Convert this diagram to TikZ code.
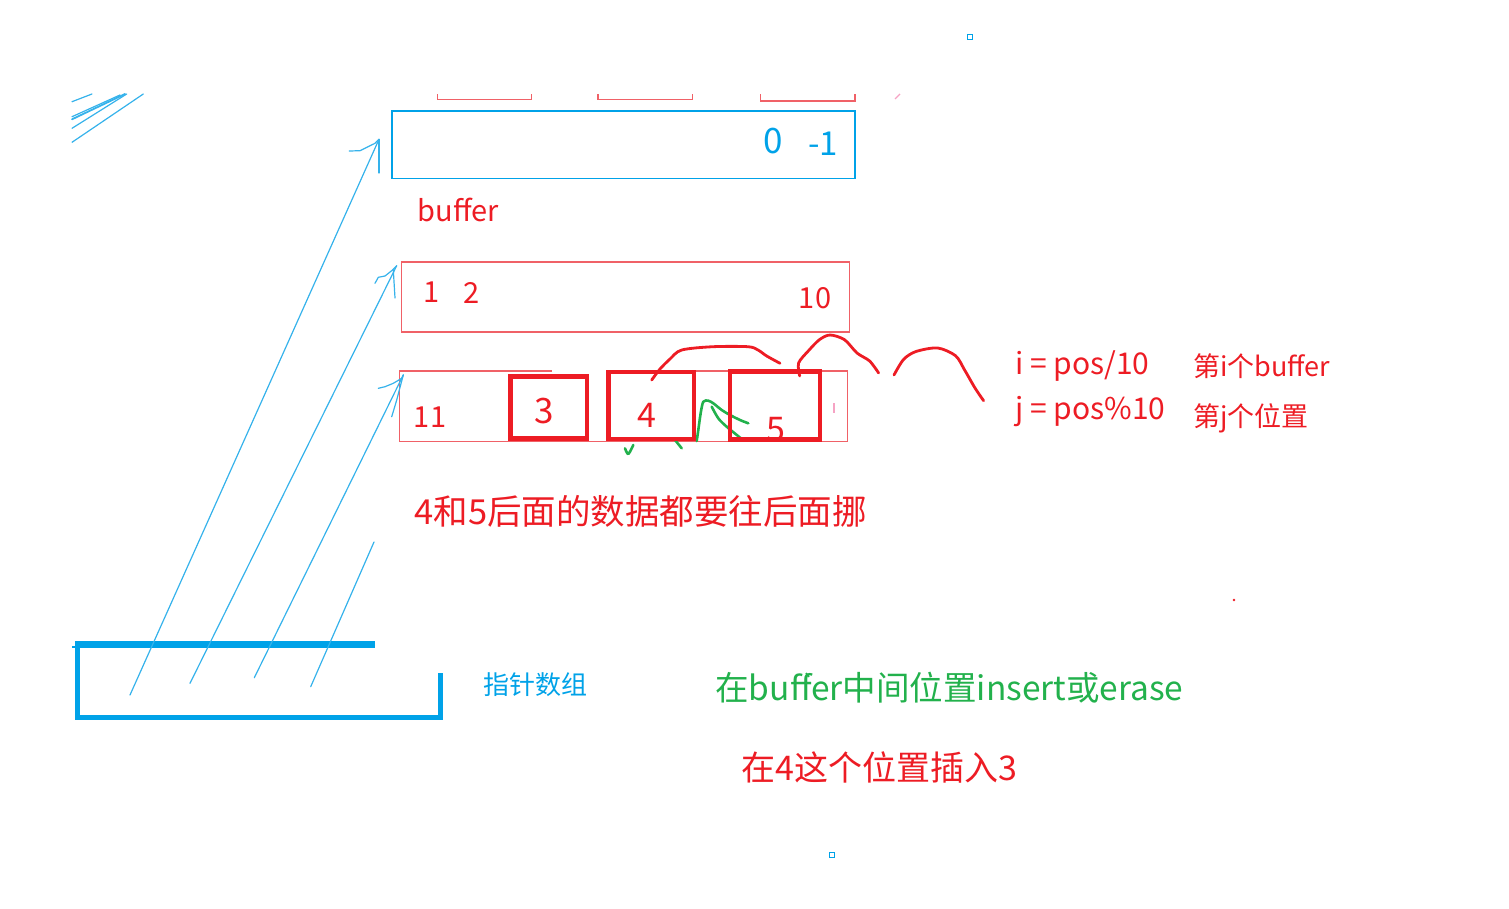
\documentclass[tikz,border=0pt]{standalone}
\usepackage{fontspec}
\newfontfamily\cjk{Noto Sans CJK SC}
\usepackage{xcolor}
\definecolor{penred}{HTML}{ED1C24}
\definecolor{thinred}{HTML}{F06167}
\definecolor{penblue}{HTML}{00A2E8}
\definecolor{thinblue}{HTML}{35B2EB}
\definecolor{pengreen}{HTML}{22B14C}
\definecolor{penpink}{HTML}{F6A3C4}

\begin{document}
\begin{tikzpicture}[
  x=1pt, y=-1pt,
  % Node Styles
  bufbox/.style={rectangle, draw=#1, line width=1.4pt, inner sep=0pt},
  markbox/.style={rectangle, draw=penred, line width=4.6pt, inner sep=0pt},
  pentext/.style={font=\cjk\fontsize{#1}{#1}\selectfont, inner sep=0pt},
  % Line Styles
  pointer/.style={thinblue, line width=1.2pt, line cap=round, line join=round},
  redscribble/.style={penred, line width=2.8pt, line cap=round, line join=round},
  greenscribble/.style={pengreen, line width=2.6pt, line cap=round, line join=round},
  thinedge/.style={thinred, line width=1.4pt}
]
\useasboundingbox (0,0) rectangle (1509,908);

% stray dots
\draw[penblue, line width=1.6pt] (967.5,34.5) rectangle (972.5,39.5);
\draw[penblue, line width=1.6pt] (829.5,852.5) rectangle (834.5,857.5);
\fill[penred] (1234,600) circle (1.3);
\draw[penpink, line width=1.2pt] (895,99) -- (900,94);

% hatching, top left
\draw[pointer] (72,101.7) -- (92,94);
\draw[pointer, line width=1.8pt] (72,119.3) -- (125,94);
\draw[pointer] (72,116.7) -- (120,95);
\draw[pointer] (72,128.3) -- (126.7,94);
\draw[pointer] (72,142.3) -- (143.3,94);

% cut-off boxes above
\draw[thinedge] (437.6,94) -- (437.6,99.5) -- (531.7,99.5) -- (531.7,94);
\draw[thinedge] (598,94) -- (598,99.5) -- (692.7,99.5) -- (692.7,94);
\draw[thinedge] (760.7,94) -- (760.7,101) -- (855,101) -- (855,94);

% buffers
\node[bufbox=penblue, minimum width=463pt, minimum height=67.5pt] (buf0) at (623.5,144.8) {};
\node[pentext=35, text=penblue] (zero) at (773.5,141) {0};
\node[pentext=33, text=penblue] (minusone) at (823,144) {-1};
\node[pentext=29, text=penred] (buflabel) at (458.5,210) {buffer};

\node[bufbox=thinred, minimum width=448pt, minimum height=70pt] (buf1) at (625.5,297) {};
\node[pentext=29, text=penred] (one) at (432,292) {1};
\node[pentext=29, text=penred] (two) at (472,293) {2};
\node[pentext=29, text=penred] (ten) at (815,298) {10};

\draw[thinedge] (552,371) -- (399.3,371) -- (399.3,441.6) -- (847.3,441.6) -- (847.3,371) -- (607,371);
\node[pentext=29, text=penred] (eleven) at (430,417) {11};
\node[pentext=35, text=penred] (three) at (544.3,410.7) {3};
\node[pentext=34, text=penred] (four) at (646.7,415) {4};
\node[pentext=34, text=penred] (five) at (775.7,430) {5};
\draw[penpink, line width=1.4pt] (834,403) -- (834,413);

% green strokes under the boxes
\draw[greenscribble] plot[smooth] coordinates {(696.7,441) (698.3,430) (700.7,413) (703.3,401.7) (708.3,400.7) (713.3,403.3) (721.7,410) (730,415) (740,420) (748.3,423.3)};
\draw[greenscribble] plot[smooth] coordinates {(711.7,406.7) (718.3,418.3) (726.7,426.7) (743,440)};
\draw[greenscribble] plot[smooth] coordinates {(625,448.3) (628.3,454) (633.3,445)};
\draw[greenscribble] (675,440) -- (681.7,448.3);

\node[markbox, minimum width=76.3pt, minimum height=62pt] (slot3) at (548.9,407.7) {};
\node[markbox, minimum width=85.3pt, minimum height=67pt] (slot4) at (651.4,405.5) {};
\node[markbox, minimum width=90pt, minimum height=67.6pt] (slot5) at (775,405.5) {};

% red arcs
\draw[redscribble] plot[smooth] coordinates {(651.7,380) (660,369) (670,359) (681.7,350) (713,346.7) (748,346.7) (758,350) (766.7,356) (780,363.3)};
\draw[redscribble] plot[smooth] coordinates {(799.7,376) (798.6,363) (808.7,350.5) (819.4,339.7) (830,335) (844.5,339.7) (857,353) (869.6,361) (878.6,373)};
\draw[redscribble] plot[smooth] coordinates {(894,375) (903.6,359.4) (916,351.5) (937.7,348) (955.6,355.8) (964.6,370) (975,388) (983.6,400.7)};

% formulas
\node[pentext=30, text=penred, anchor=base west] (idx) at (1015,374) {i = pos/10};
\node[pentext=30, text=penred, anchor=base west] (pos) at (1015,419) {j = pos\%10};
\node[pentext=27, text=penred, anchor=base west] (idxnote) at (1193,376) {第i个buffer};
\node[pentext=27, text=penred, anchor=base west] (posnote) at (1193,426) {第j个位置};

% notes
\node[pentext=34.5, text=penred] (shiftnote) at (640.5,511) {4和5后面的数据都要往后面挪};
\node[pentext=26, text=penblue] (ptrlabel) at (535,685) {指针数组};
\node[pentext=33.5, text=pengreen] (opnote) at (949.5,688) {在buffer中间位置insert或erase};
\node[pentext=34, text=penred] (insnote) at (879,767) {在4这个位置插入3};
\draw[pengreen, line width=1.5pt] (806,673) -- (809,677);

% pointer array
\draw[penblue, line width=5pt] (375,643.5) -- (77.5,643.5) -- (77.5,717) -- (440,717) -- (440,673);
\draw[penblue, line width=1.3pt] (72,647) -- (375,647);
\draw[penblue, line width=2pt] (338,719) -- (441,719);

% pointers
\coordinate (ptr1) at (130,695);
\coordinate (ptr2) at (190,683.3);
\coordinate (ptr3) at (254.3,677.7);
\coordinate (ptr4) at (310.7,686.7);
\coordinate (tip1) at (379,139.3);
\coordinate (tip2) at (396.7,265.7);
\coordinate (tip3) at (403.3,375);
\coordinate (tip4) at (374,542);

\draw[pointer] (ptr1) -- (tip1);
\draw[pointer] (ptr2) -- (tip2);
\draw[pointer] (ptr3) -- (tip3);
\draw[pointer] (ptr4) -- (tip4);

% hand drawn heads
\draw[pointer] (tip1) -- ++(-4,4) -- ++(-15,7.4) -- ++(-10.7,0.3);
\draw[pointer] (tip1) -- ++(0,33.7);
\draw[pointer] (tip2) -- ++(-5,5) -- ++(-6.7,5.3) -- ++(-6.7,1.3) -- ++(-3.3,6);
\draw[pointer] (tip2) ++(-3.4,4.3) -- ++(1.7,28);
\draw[pointer] (tip3) -- ++(-1.6,3.3) -- ++(-8.4,5) -- ++(-8.3,3.4) -- ++(-6.7,1.6);
\draw[pointer] plot[smooth] coordinates {(tip3) (399.3,390) (396.7,400) (391.7,416.7)};

\end{tikzpicture}
\end{document}
